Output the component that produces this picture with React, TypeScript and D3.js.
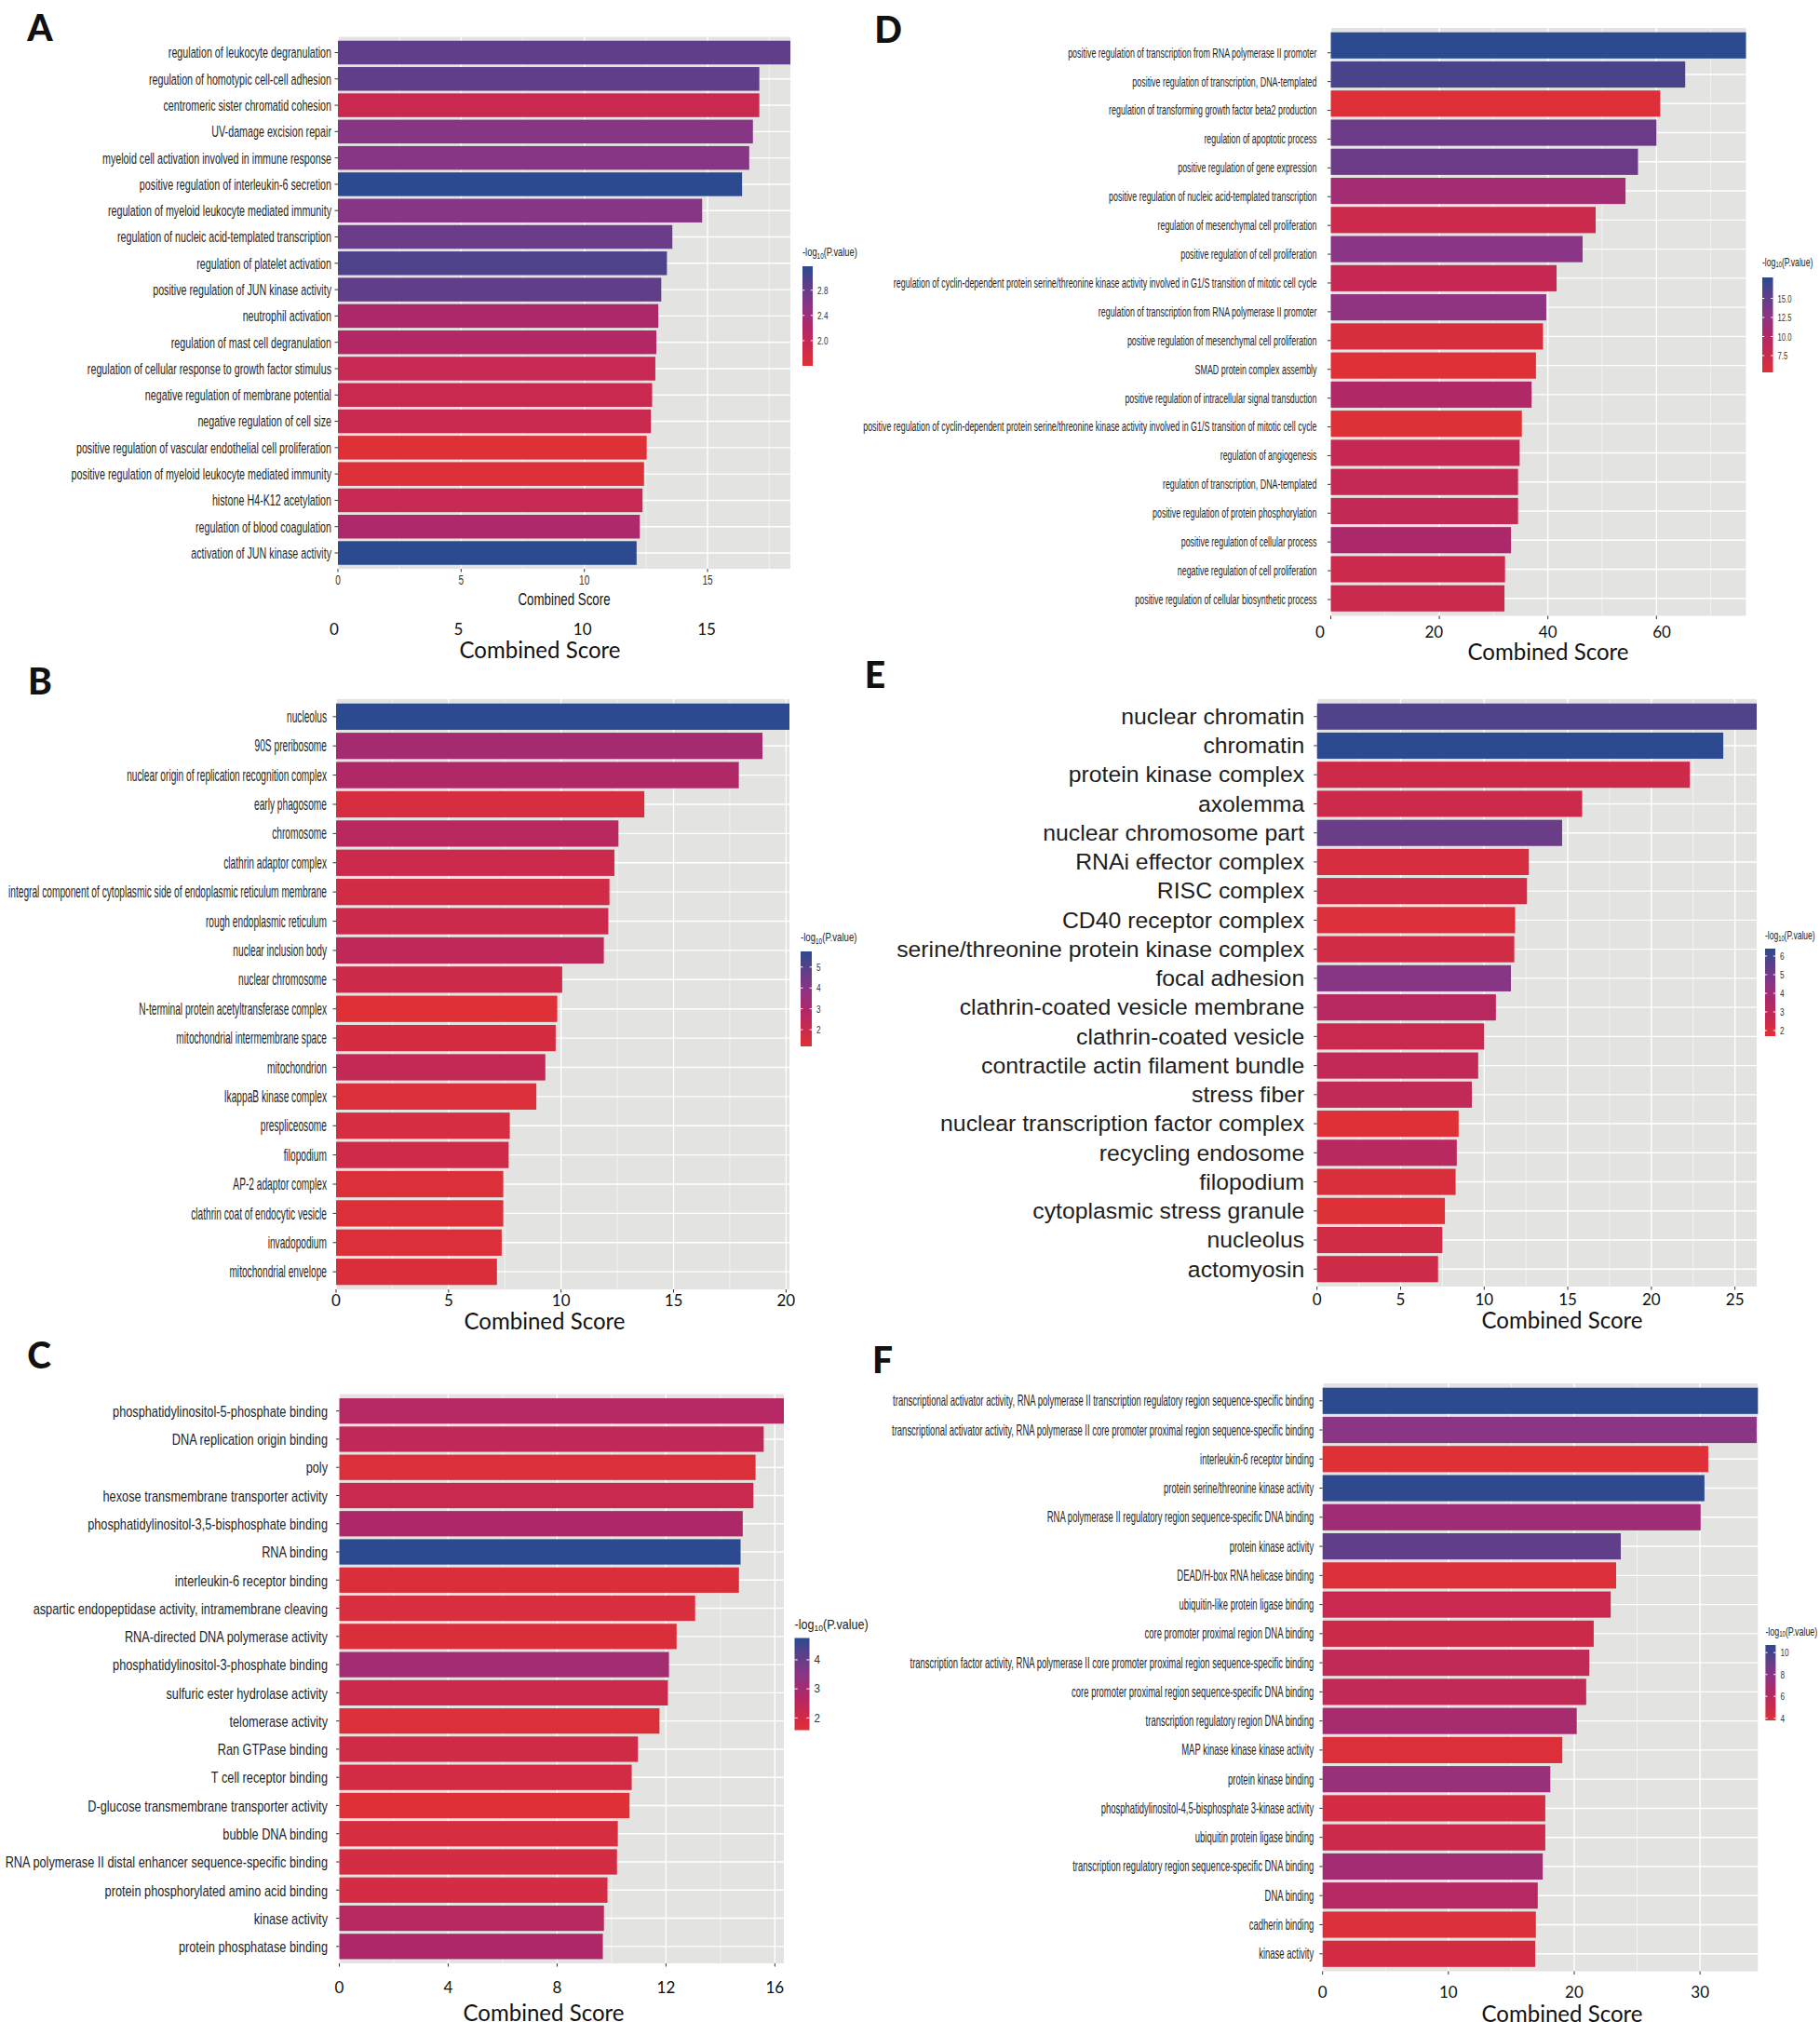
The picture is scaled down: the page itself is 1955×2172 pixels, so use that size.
import React from 'react';
import * as d3 from 'd3';

// ---------- Panel A (biological process) ----------
const aTerms = [
  'regulation of leukocyte degranulation',
  'regulation of homotypic cell-cell adhesion',
  'centromeric sister chromatid cohesion',
  'UV-damage excision repair',
  'myeloid cell activation involved in immune response',
  'positive regulation of interleukin-6 secretion',
  'regulation of myeloid leukocyte mediated immunity',
  'regulation of nucleic acid-templated transcription',
  'regulation of platelet activation',
  'positive regulation of JUN kinase activity',
  'neutrophil activation',
  'regulation of mast cell degranulation',
  'regulation of cellular response to growth factor stimulus',
  'negative regulation of membrane potential',
  'negative regulation of cell size',
  'positive regulation of vascular endothelial cell proliferation',
  'positive regulation of myeloid leukocyte mediated immunity',
  'histone H4-K12 acetylation',
  'regulation of blood coagulation',
  'activation of JUN kinase activity',
];
const aScores = [18.36, 17.1, 17.1, 16.84, 16.69, 16.4, 14.78, 13.57, 13.35, 13.12, 13.0, 12.92, 12.88, 12.75, 12.7, 12.53, 12.42, 12.36, 12.25, 12.12];
const aLogP = [2.86, 2.86, 1.92, 2.58, 2.58, 3.18, 2.58, 2.78, 2.97, 2.86, 2.26, 2.17, 1.95, 1.92, 1.92, 1.6, 1.62, 1.95, 2.25, 3.18];
const aTicks = [0, 5, 10, 15];
const aLegendTicks = [2.0, 2.4, 2.8];

// ---------- Panel B (cellular component) ----------
const bTerms = [
  'nucleolus',
  '90S preribosome',
  'nuclear origin of replication recognition complex',
  'early phagosome',
  'chromosome',
  'clathrin adaptor complex',
  'integral component of cytoplasmic side of endoplasmic reticulum membrane',
  'rough endoplasmic reticulum',
  'nuclear inclusion body',
  'nuclear chromosome',
  'N-terminal protein acetyltransferase complex',
  'mitochondrial intermembrane space',
  'mitochondrion',
  'IkappaB kinase complex',
  'prespliceosome',
  'filopodium',
  'AP-2 adaptor complex',
  'clathrin coat of endocytic vesicle',
  'invadopodium',
  'mitochondrial envelope',
];
const bScores = [20.15, 18.95, 17.9, 13.7, 12.55, 12.37, 12.15, 12.1, 11.9, 10.05, 9.83, 9.76, 9.3, 8.9, 7.72, 7.67, 7.43, 7.43, 7.36, 7.15];
const bLogP = [5.75, 3.25, 2.93, 1.56, 2.66, 2.02, 1.75, 2.0, 2.47, 1.93, 1.2, 1.65, 2.3, 1.35, 1.6, 1.84, 1.35, 1.3, 1.3, 1.38];
const bTicks = [0, 5, 10, 15, 20];
const bLegendTicks = [2, 3, 4, 5];

// ---------- Panel C (molecular function) ----------
const cTerms = [
  'phosphatidylinositol-5-phosphate binding',
  'DNA replication origin binding',
  'poly',
  'hexose transmembrane transporter activity',
  'phosphatidylinositol-3,5-bisphosphate binding',
  'RNA binding',
  'interleukin-6 receptor binding',
  'aspartic endopeptidase activity, intramembrane cleaving',
  'RNA-directed DNA polymerase activity',
  'phosphatidylinositol-3-phosphate binding',
  'sulfuric ester hydrolase activity',
  'telomerase activity',
  'Ran GTPase binding',
  'T cell receptor binding',
  'D-glucose transmembrane transporter activity',
  'bubble DNA binding',
  'RNA polymerase II distal enhancer sequence-specific binding',
  'protein phosphorylated amino acid binding',
  'kinase activity',
  'protein phosphatase binding',
];
const cScores = [16.33, 15.59, 15.29, 15.21, 14.82, 14.74, 14.68, 13.07, 12.39, 12.11, 12.07, 11.76, 10.97, 10.74, 10.66, 10.23, 10.2, 9.85, 9.72, 9.68];
const cLogP = [2.69, 2.44, 1.68, 2.21, 2.85, 4.75, 1.7, 1.77, 1.7, 3.07, 2.15, 1.68, 2.02, 1.93, 1.58, 1.83, 1.9, 1.9, 2.62, 2.85];
const cTicks = [0, 4, 8, 12, 16];
const cLegendTicks = [2, 3, 4];

// ---------- Panel D (biological process) ----------
const dTerms = [
  'positive regulation of transcription from RNA polymerase II promoter',
  'positive regulation of transcription, DNA-templated',
  'regulation of transforming growth factor beta2 production',
  'regulation of apoptotic process',
  'positive regulation of gene expression',
  'positive regulation of nucleic acid-templated transcription',
  'regulation of mesenchymal cell proliferation',
  'positive regulation of cell proliferation',
  'regulation of cyclin-dependent protein serine/threonine kinase activity involved in G1/S transition of mitotic cell cycle',
  'regulation of transcription from RNA polymerase II promoter',
  'positive regulation of mesenchymal cell proliferation',
  'SMAD protein complex assembly',
  'positive regulation of intracellular signal transduction',
  'positive regulation of cyclin-dependent protein serine/threonine kinase activity involved in G1/S transition of mitotic cell cycle',
  'regulation of angiogenesis',
  'regulation of transcription, DNA-templated',
  'positive regulation of protein phosphorylation',
  'positive regulation of cellular process',
  'negative regulation of cell proliferation',
  'positive regulation of cellular biosynthetic process',
];
const dScores = [76.5, 65.3, 60.7, 60.0, 56.6, 54.3, 48.8, 46.4, 41.6, 39.7, 39.1, 37.8, 37.0, 35.2, 34.8, 34.5, 34.5, 33.2, 32.1, 32.0];
const dLogP = [17.75, 16.3, 5.5, 14.5, 14.5, 11.15, 7.5, 12.8, 8.2, 12.4, 6.2, 5.3, 10.0, 5.4, 8.2, 8.3, 8.4, 10.5, 7.5, 7.7];
const dTicks = [0, 20, 40, 60];
const dLegendTicks = [7.5, 10.0, 12.5, 15.0];

// ---------- Panel E (cellular component) ----------
const eTerms = [
  'nuclear chromatin',
  'chromatin',
  'protein kinase complex',
  'axolemma',
  'nuclear chromosome part',
  'RNAi effector complex',
  'RISC complex',
  'CD40 receptor complex',
  'serine/threonine protein kinase complex',
  'focal adhesion',
  'clathrin-coated vesicle membrane',
  'clathrin-coated vesicle',
  'contractile actin filament bundle',
  'stress fiber',
  'nuclear transcription factor complex',
  'recycling endosome',
  'filopodium',
  'cytoplasmic stress granule',
  'nucleolus',
  'actomyosin',
];
const eScores = [26.3, 24.3, 22.3, 15.86, 14.66, 12.67, 12.56, 11.85, 11.8, 11.6, 10.7, 10.0, 9.64, 9.26, 8.47, 8.36, 8.29, 7.65, 7.5, 7.24];
const eLogP = [5.7, 6.4, 2.45, 2.5, 5.2, 2.08, 2.26, 1.8, 2.3, 4.6, 3.25, 2.64, 2.88, 2.92, 1.7, 3.2, 1.94, 1.75, 2.26, 2.4];
const eTicks = [0, 5, 10, 15, 20, 25];
const eLegendTicks = [2, 3, 4, 5, 6];

// ---------- Panel F (molecular function) ----------
const fTerms = [
  'transcriptional activator activity, RNA polymerase II transcription regulatory region sequence-specific binding',
  'transcriptional activator activity, RNA polymerase II core promoter proximal region sequence-specific binding',
  'interleukin-6 receptor binding',
  'protein serine/threonine kinase activity',
  'RNA polymerase II regulatory region sequence-specific DNA binding',
  'protein kinase activity',
  'DEAD/H-box RNA helicase binding',
  'ubiquitin-like protein ligase binding',
  'core promoter proximal region DNA binding',
  'transcription factor activity, RNA polymerase II core promoter proximal region sequence-specific binding',
  'core promoter proximal region sequence-specific DNA binding',
  'transcription regulatory region DNA binding',
  'MAP kinase kinase kinase activity',
  'protein kinase binding',
  'phosphatidylinositol-4,5-bisphosphate 3-kinase activity',
  'ubiquitin protein ligase binding',
  'transcription regulatory region sequence-specific DNA binding',
  'DNA binding',
  'cadherin binding',
  'kinase activity',
];
const fScores = [34.6, 34.5, 30.65, 30.35, 30.05, 23.7, 23.33, 22.9, 21.55, 21.2, 20.95, 20.2, 19.05, 18.1, 17.7, 17.7, 17.5, 17.1, 16.95, 16.9];
const fLogP = [10.7, 7.94, 3.8, 10.6, 7.1, 9.3, 3.95, 5.2, 4.9, 5.6, 5.6, 6.84, 3.95, 7.4, 4.5, 5.0, 7.05, 6.2, 4.0, 4.5];
const fTicks = [0, 10, 20, 30];
const fLegendTicks = [4, 6, 8, 10];

// ---------- styling ----------
const rampColors = ['#de3036', '#c9294f', '#ae2869', '#8b3585', '#5f3e89', '#2b4a8f'];
const ramp = d3.piecewise(d3.interpolateRgb, rampColors);
const LABEL_FONT = "'Liberation Sans', Arial, sans-serif";
const BIG_FONT = "Lato, 'Open Sans', sans-serif";
const PANEL_BG = '#e3e4e1';

const panels = [
  {
    id: 'A', terms: aTerms, scores: aScores, logp: aLogP, ticks: aTicks,
    letterX: 43, letterY: 29,
    x0: 363, x1: 849, y0: 39.5, y1: 611,
    labelSize: 16.5, labelScale: 0.65, labelGap: 7,
    axis: { mode: 'small', tickY: 623, titleX: 606, titleY: 644 },
    overlay: { domain: [0, 15], range: [359, 759], ticks: aTicks, tickY: 675, titleX: 580, titleY: 697 },
    legend: { x: 862, w: 11, y0: 286, y1: 393, titleY: 271, ticks: aLegendTicks, fmt: '.1f', titleSize: 12, titleScale: 0.78, tickSize: 11, tickScale: 0.75 },
  },
  {
    id: 'B', terms: bTerms, scores: bScores, logp: bLogP, ticks: bTicks,
    letterX: 43, letterY: 731,
    x0: 361, x1: 848, y0: 751, y1: 1385,
    labelSize: 17.5, labelScale: 0.582, labelGap: 10,
    axis: { mode: 'big', tickY: 1396, titleX: 585, titleY: 1418 },
    legend: { x: 860, w: 12, y0: 1022, y1: 1124, titleY: 1007, ticks: bLegendTicks, fmt: 'd', titleSize: 12, titleScale: 0.8, tickSize: 11, tickScale: 0.75 },
  },
  {
    id: 'C', terms: cTerms, scores: cScores, logp: cLogP, ticks: cTicks,
    letterX: 42, letterY: 1455,
    x0: 364.5, x1: 842, y0: 1497.5, y1: 2109,
    labelSize: 17, labelScale: 0.75, labelGap: 12.5,
    axis: { mode: 'big', tickY: 2134, titleX: 584, titleY: 2161 },
    legend: { x: 853.5, w: 16, y0: 1759.5, y1: 1858.5, titleY: 1745, ticks: cLegendTicks, fmt: 'd', titleSize: 14, titleScale: 0.9, tickSize: 13, tickScale: 0.9 },
  },
  {
    id: 'D', terms: dTerms, scores: dScores, logp: dLogP, ticks: dTicks,
    letterX: 954, letterY: 31,
    x0: 1429.5, x1: 1875.5, y0: 30, y1: 661.5,
    labelSize: 15.4, labelScale: 0.578, labelGap: 15,
    labelRange: [56.7, 644],
    axis: { mode: 'none' },
    overlay: { domain: [0, 60], range: [1418, 1785], ticks: dTicks, tickY: 678, titleX: 1663, titleY: 699 },
    legend: { x: 1893, w: 11.5, y0: 298, y1: 400, titleY: 281, ticks: dLegendTicks, fmt: '.1f', titleSize: 12, titleScale: 0.72, tickSize: 11, tickScale: 0.7 },
  },
  {
    id: 'E', terms: eTerms, scores: eScores, logp: eLogP, ticks: eTicks,
    letterX: 940, letterY: 724,
    x0: 1414.7, x1: 1887, y0: 751, y1: 1382,
    labelSize: 23.5, labelScale: 1.055, labelGap: 13.5,
    axis: { mode: 'big', tickY: 1395, titleX: 1678, titleY: 1417 },
    legend: { x: 1896, w: 11, y0: 1019, y1: 1113, titleY: 1004, ticks: eLegendTicks, fmt: 'd', titleSize: 12, titleScale: 0.71, tickSize: 11, tickScale: 0.75 },
  },
  {
    id: 'F', terms: fTerms, scores: fScores, logp: fLogP, ticks: fTicks,
    letterX: 948, letterY: 1460,
    x0: 1420.7, x1: 1888.3, y0: 1486, y1: 2117.5,
    labelSize: 16.5, labelScale: 0.575, labelGap: 9.5,
    axis: { mode: 'big', tickY: 2139, titleX: 1678, titleY: 2162 },
    legend: { x: 1896.4, w: 11, y0: 1767, y1: 1848, titleY: 1752, ticks: fLegendTicks, fmt: 'd', titleSize: 12, titleScale: 0.74, tickSize: 11, tickScale: 0.75 },
  },
];

function LegendTitle({ x, y, size, scale }) {
  return (
    <text transform={`translate(${x},${y}) scale(${scale},1)`} fontFamily={LABEL_FONT} fontSize={size} fill="#222" dominantBaseline="central">
      <tspan>-log</tspan>
      <tspan fontSize={size * 0.68} dy={size * 0.3}>10</tspan>
      <tspan dy={-size * 0.3}>(P.value)</tspan>
    </text>
  );
}

const TICK_FS = 17;
const TITLE_FS = 25;

function Panel({ c }) {
  const max = d3.max(c.scores);
  const x = d3.scaleLinear().domain([0, max]).range([c.x0, c.x1]);
  const y = d3.scaleBand().domain(d3.range(c.terms.length)).range([c.y0, c.y1]).paddingInner(0.1).paddingOuter(0.15);
  const labelY = c.labelRange
    ? d3.scaleLinear().domain([0, c.terms.length - 1]).range(c.labelRange)
    : (i) => y(i) + y.bandwidth() / 2;
  const ext = d3.extent(c.logp);
  const t = d3.scaleLinear().domain(ext).range([0, 1]);
  const color = (v) => ramp(t(v));
  const step = c.ticks[1] - c.ticks[0];
  const minor = [];
  for (let m = c.ticks[0] + step / 2; m < max; m += step) minor.push(m);
  const L = c.legend;
  const ly = d3.scaleLinear().domain(ext).range([L.y1, L.y0]);
  const gid = `grad-${c.id}`;
  const fmt = d3.format(L.fmt);
  const ov = c.overlay ? d3.scaleLinear().domain(c.overlay.domain).range(c.overlay.range) : null;

  return (
    <g>
      <defs>
        <linearGradient id={gid} x1="0" y1="0" x2="0" y2="1">
          {d3.range(0, 1.0001, 0.05).map((k) => (
            <stop key={k} offset={k} stopColor={ramp(1 - k)} />
          ))}
        </linearGradient>
      </defs>
      <text x={c.letterX} y={c.letterY} fontFamily={BIG_FONT} fontWeight={900} fontSize={39} textAnchor="middle" dominantBaseline="central" fill="#111">{c.id}</text>
      <rect x={c.x0} y={c.y0} width={c.x1 - c.x0} height={c.y1 - c.y0} fill={PANEL_BG} />
      {minor.map((m) => (
        <line key={'mn' + m} x1={x(m)} x2={x(m)} y1={c.y0} y2={c.y1} stroke="#fff" strokeWidth={0.7} opacity={0.8} />
      ))}
      {c.ticks.map((tk) => (
        <line key={'mj' + tk} x1={x(tk)} x2={x(tk)} y1={c.y0} y2={c.y1} stroke="#fff" strokeWidth={1.4} />
      ))}
      {c.terms.map((_, i) => (
        <line key={'hg' + i} x1={c.x0} x2={c.x1} y1={y(i) + y.bandwidth() / 2} y2={y(i) + y.bandwidth() / 2} stroke="#fff" strokeWidth={1.4} />
      ))}
      {c.scores.map((s, i) => (
        <rect key={'b' + i} x={x(0)} y={y(i)} width={x(s) - x(0)} height={y.bandwidth()} fill={color(c.logp[i])} />
      ))}
      {c.terms.map((term, i) => {
        const yc = labelY(i);
        return (
          <g key={'l' + i}>
            <line x1={c.x0 - 3.5} x2={c.x0} y1={yc} y2={yc} stroke="#333" strokeWidth={1} />
            <text transform={`translate(${c.x0 - c.labelGap},${yc}) scale(${c.labelScale},1)`} textAnchor="end" dominantBaseline="central" fontFamily={LABEL_FONT} fontSize={c.labelSize} fill="#1e1e1e">{term}</text>
          </g>
        );
      })}
      {c.ticks.map((tk) => (
        <line key={'xt' + tk} x1={x(tk)} x2={x(tk)} y1={c.y1} y2={c.y1 + 3.5} stroke="#333" strokeWidth={1} />
      ))}
      {c.axis.mode === 'small' && (
        <g>
          {c.ticks.map((tk) => (
            <text key={'st' + tk} transform={`translate(${x(tk)},${c.axis.tickY}) scale(0.72,1)`} textAnchor="middle" dominantBaseline="central" fontFamily={LABEL_FONT} fontSize={14} fill="#333">{tk}</text>
          ))}
          <text transform={`translate(${c.axis.titleX},${c.axis.titleY}) scale(0.74,1)`} textAnchor="middle" dominantBaseline="central" fontFamily={LABEL_FONT} fontSize={18} fill="#111">Combined Score</text>
        </g>
      )}
      {c.axis.mode === 'big' && (
        <g>
          {c.ticks.map((tk) => (
            <text key={'bt' + tk} x={x(tk)} y={c.axis.tickY} textAnchor="middle" dominantBaseline="central" fontFamily={BIG_FONT} fontSize={TICK_FS} fill="#111">{tk}</text>
          ))}
          <text x={c.axis.titleX} y={c.axis.titleY} textAnchor="middle" dominantBaseline="central" fontFamily={BIG_FONT} fontSize={TITLE_FS} textLength={173} lengthAdjust="spacingAndGlyphs" fill="#111">Combined Score</text>
        </g>
      )}
      {ov && (
        <g>
          {c.overlay.ticks.map((tk) => (
            <text key={'ot' + tk} x={ov(tk)} y={c.overlay.tickY} textAnchor="middle" dominantBaseline="central" fontFamily={BIG_FONT} fontSize={TICK_FS} fill="#111">{tk}</text>
          ))}
          <text x={c.overlay.titleX} y={c.overlay.titleY} textAnchor="middle" dominantBaseline="central" fontFamily={BIG_FONT} fontSize={TITLE_FS} textLength={173} lengthAdjust="spacingAndGlyphs" fill="#111">Combined Score</text>
        </g>
      )}
      <LegendTitle x={L.x} y={L.titleY} size={L.titleSize} scale={L.titleScale} />
      <rect x={L.x} y={L.y0} width={L.w} height={L.y1 - L.y0} fill={`url(#${gid})`} />
      {L.ticks.map((tk) => (
        <g key={'lt' + tk}>
          <line x1={L.x} x2={L.x + L.w * 0.2} y1={ly(tk)} y2={ly(tk)} stroke="#fff" strokeWidth={1} />
          <line x1={L.x + L.w * 0.8} x2={L.x + L.w} y1={ly(tk)} y2={ly(tk)} stroke="#fff" strokeWidth={1} />
          <text transform={`translate(${L.x + L.w + 5},${ly(tk)}) scale(${L.tickScale},1)`} dominantBaseline="central" fontFamily={LABEL_FONT} fontSize={L.tickSize} fill="#333">{fmt(tk)}</text>
        </g>
      ))}
    </g>
  );
}

export default function App() {
  return (
    <div style={{ position: 'absolute', left: 0, top: 0 }}>
      <svg width={1955} height={2172} viewBox="0 0 1955 2172" style={{ display: 'block', background: '#fff' }}>
        <rect x={0} y={0} width={1955} height={2172} fill="#fff" />
        {panels.map((c) => (
          <Panel key={c.id} c={c} />
        ))}
      </svg>
    </div>
  );
}
